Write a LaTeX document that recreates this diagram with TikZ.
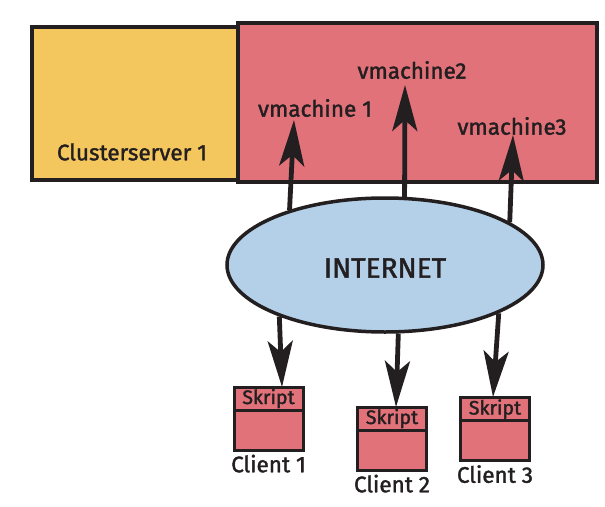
\documentclass[tikz,border=0pt]{standalone}
\usepackage{fontspec}
\setmainfont{Fira Sans}
\newfontfamily\labelfont[FakeBold=1.6]{Fira Sans}
\usetikzlibrary{arrows.meta, positioning, shapes.geometric}

\definecolor{clusteryellow}{HTML}{F3C65E}
\definecolor{vmred}{HTML}{E2727A}
\definecolor{netblue}{HTML}{B4D0E8}
\definecolor{ink}{HTML}{231F20}

\tikzset{
  box/.style={draw=ink, line width=3.5pt, inner sep=0pt},
  lbl/.style={text=ink, inner sep=1pt, font=\labelfont\fontsize{22.5}{22.5}\selectfont},
  link/.style={draw=ink, line width=4.8pt, -{Stealth[length=46pt, width=25pt, inset=11pt]}},
  clientbox/.style={box, line width=3pt, fill=vmred, minimum width=69pt, minimum height=63pt},
  skriptbox/.style={box, line width=3pt, fill=vmred, minimum width=69pt, minimum height=23pt,
    text=ink, font=\labelfont\fontsize{19.5}{19.5}\selectfont}
}

\begin{document}
\begin{tikzpicture}[x=1pt, y=-1pt]
  \useasboundingbox[fill=white] (0,0) rectangle (605,506);

  % Draw the server boxes
  \node[box, fill=clusteryellow, minimum width=206pt, minimum height=153pt] (cluster) at (135,103.5) {};
  \node[box, fill=vmred, minimum width=359pt, minimum height=159pt] (vmhost) at (417.5,102.5) {};
  \node[lbl] (clustername) at (132,152) {Clusterserver 1};

  \node[lbl] (vm1) at (315,108) {vmachine 1};
  \node[lbl] (vm2) at (412,70) {vmachine2};
  \node[lbl] (vm3) at (512,126) {vmachine3};

  % Draw the internet cloud
  \node[box, ellipse, fill=netblue, minimum width=316pt, minimum height=134pt] (net) at (385,265) {};
  \node[text=ink, font=\labelfont\fontsize{28}{28}\selectfont] (nettext) at (385,268) {INTERNET};

  % Draw the clients with their script header
  \node[clientbox] (c1) at (268.5,418.5) {};
  \node[clientbox] (c2) at (392,438.5) {};
  \node[clientbox] (c3) at (495,429) {};

  \node[skriptbox, anchor=north] (s1) at (c1.north) {Skript};
  \node[skriptbox, anchor=north] (s2) at (c2.north) {Skript};
  \node[skriptbox, anchor=north] (s3) at (c3.north) {Skript};

  \node[lbl, below=2pt of c1] (c1name) {Client 1};
  \node[lbl, below=2pt of c2] (c2name) {Client 2};
  \node[lbl, below=2pt of c3] (c3name) {Client 3};

  % Arrow tips
  \coordinate (vmtip1) at (294,120);
  \coordinate (vmtip2) at (405,85);
  \coordinate (vmtip3) at (513,135);
  \coordinate (ctip1) at (282,387);
  \coordinate (ctip2) at (396,407);
  \coordinate (ctip3) at (493,397);

  % Draw the connections from the internet
  \draw[link] (net.150.6) -- (vmtip1);
  \draw[link] (net.74.9) -- (vmtip2);
  \draw[link] (net.19.2) -- (vmtip3);

  \draw[link] (net.206.7) -- (ctip1);
  \draw[link] (net.281) -- (ctip2);
  \draw[link] (net.337.5) -- (ctip3);
\end{tikzpicture}
\end{document}
